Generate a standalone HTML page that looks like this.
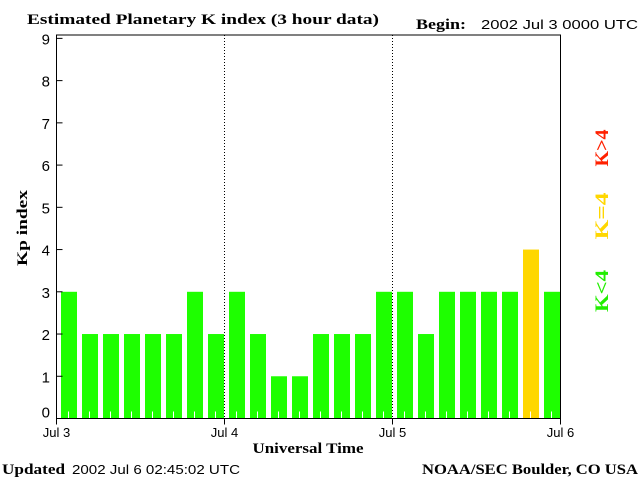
<!DOCTYPE html>
<html><head><meta charset="utf-8"><style>
html,body{margin:0;padding:0;background:#fff;}
svg{display:block;}
.serif{font-family:"Liberation Serif",serif;font-weight:bold;}
.sans{font-family:"Liberation Sans",sans-serif;}
</style></head><body>
<svg id="chart" width="640" height="480" xmlns="http://www.w3.org/2000/svg">
<text x="27" y="24" class="serif" font-size="15" textLength="352" lengthAdjust="spacingAndGlyphs">Estimated Planetary K index (3 hour data)</text>
<text x="416" y="29" class="serif" font-size="15" textLength="50" lengthAdjust="spacingAndGlyphs">Begin:</text>
<text x="481" y="29" class="sans" font-size="13" textLength="157" lengthAdjust="spacingAndGlyphs">2002 Jul 3 0000 UTC</text>
<g id="bars"></g>
<g id="axes"></g>
<text x="27" y="228" class="serif" font-size="15" transform="rotate(-90 27 228)" text-anchor="middle" textLength="76" lengthAdjust="spacingAndGlyphs">Kp index</text>
<text x="308" y="453" class="serif" font-size="15" text-anchor="middle" textLength="111" lengthAdjust="spacingAndGlyphs">Universal Time</text>
<text x="2" y="474" class="serif" font-size="15" textLength="63" lengthAdjust="spacingAndGlyphs">Updated</text>
<text x="72" y="474" class="sans" font-size="13" textLength="168" lengthAdjust="spacingAndGlyphs">2002 Jul  6 02:45:02 UTC</text>
<text x="422" y="474" class="serif" font-size="15" textLength="216" lengthAdjust="spacingAndGlyphs">NOAA/SEC Boulder, CO USA</text>
<text x="608" y="148" class="serif" font-size="19" fill="#ff2000" transform="rotate(-90 608 148)" text-anchor="middle" textLength="37" lengthAdjust="spacingAndGlyphs">K&gt;4</text>
<text x="608" y="216" class="serif" font-size="19" fill="#ffd700" transform="rotate(-90 608 216)" text-anchor="middle" textLength="47" lengthAdjust="spacingAndGlyphs">K=4</text>
<text x="608" y="291" class="serif" font-size="19" fill="#22ee00" transform="rotate(-90 608 291)" text-anchor="middle" textLength="42" lengthAdjust="spacingAndGlyphs">K&lt;4</text>
</svg>
<script>
const kpValues = [3,2,2,2,2,2,3,2, 3,2,1,1,2,2,2,3, 3,2,3,3,3,3,4,3];
const dayLabels = ["Jul 3","Jul 4","Jul 5","Jul 6"];
const yTicks = [0,1,2,3,4,5,6,7,8,9];
const NS="http://www.w3.org/2000/svg";
const L=56.5,R=560.5,T=35,B=418.5;
const yMin=0,yMax=9.08;
function yS(v){return B-(v-yMin)/(yMax-yMin)*(B-T);}
const nSlots=kpValues.length;
function xS(i){return L+(R-L)*i/nSlots;}
function mk(tag,attrs,parent){const e=document.createElementNS(NS,tag);for(const k in attrs)e.setAttribute(k,attrs[k]);parent.appendChild(e);return e;}
const bars=document.getElementById('bars'),axes=document.getElementById('axes');
const slotW=(R-L)/nSlots;
kpValues.forEach((v,i)=>{
  const col=v>4?'#ff2000':(v===4?'#ffd700':'#1eff00');
  const r=mk('rect',{x:xS(i)+4.5,y:yS(v),width:slotW-5,height:B-yS(v),fill:col},bars);
  
  
  const t=mk('line',{x1:xS(i)+slotW/2+1.5,x2:xS(i)+slotW/2+1.5,y1:B-7,y2:B,stroke:'#fff','stroke-width':1},bars);
  
  
});
for(let d=1;d<dayLabels.length-1;d++){
  const x=L+(R-L)*d/(dayLabels.length-1);
  const l=mk('line',{x1:x,x2:x,y1:T,y2:B,stroke:'#000','stroke-width':1,'stroke-dasharray':'1,2'},axes);
  
  
}
const f=mk('rect',{x:L,y:T,width:R-L,height:B-T,fill:'none',stroke:'#000','stroke-width':1},axes);


yTicks.forEach(v=>{
  const y=yS(v);
  const tk=mk('line',{x1:L,x2:L+6,y1:y,y2:y,stroke:'#000'},axes);
  
  
  const tx=mk('text',{x:50,y:Math.min(y+6,B-1),'text-anchor':'end','font-size':15,'font-family':'Liberation Sans, sans-serif'},axes);
  tx.textContent=v;
  
  
});
dayLabels.forEach((s,d)=>{
  const x=L+(R-L)*d/(dayLabels.length-1);
  const tk=mk('line',{x1:x,x2:x,y1:B,y2:B+6,stroke:'#000'},axes);
  
  
  const tx=mk('text',{x:x,y:437,'text-anchor':'middle','font-size':13,'font-family':'Liberation Sans, sans-serif'},axes);
  tx.textContent=s;
  
  
});
</script>
</body></html>
